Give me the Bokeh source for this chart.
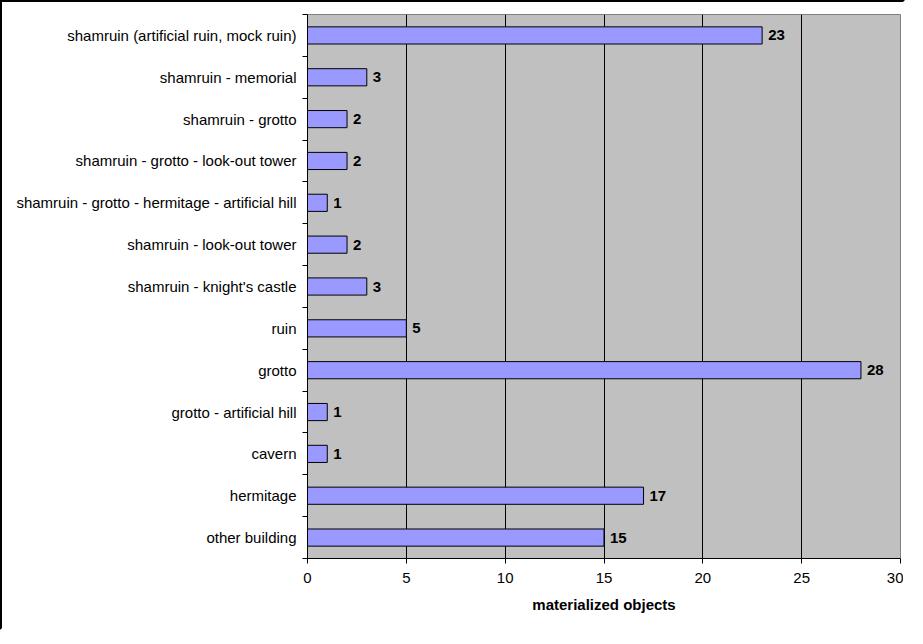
from bokeh.plotting import figure
from bokeh.models import FixedTicker, ColumnDataSource, LabelSet, Range1d
from bokeh.core.properties import value
from bokeh.embed import file_html
from bokeh.resources import INLINE

categories = [
    "shamruin (artificial ruin, mock ruin)",
    "shamruin - memorial",
    "shamruin - grotto",
    "shamruin - grotto - look-out tower",
    "shamruin - grotto - hermitage - artificial hill",
    "shamruin - look-out tower",
    "shamruin - knight's castle",
    "ruin",
    "grotto",
    "grotto - artificial hill",
    "cavern",
    "hermitage",
    "other building",
]
values = [23, 3, 2, 2, 1, 2, 3, 5, 28, 1, 1, 17, 15]
x_ticks = [0, 5, 10, 15, 20, 25, 30]

n = len(categories)
ypos = [n - i - 0.5 for i in range(n)]
source = ColumnDataSource(dict(y=ypos, v=values, label=[str(v) for v in values], cat=categories))

p = figure(width=905, height=630, output_backend="svg", toolbar_location=None,
           x_range=Range1d(0, 30), y_range=Range1d(0, n),
           min_border_left=305, min_border_right=7, min_border_top=12, min_border_bottom=74)
p.styles = {"border": "2px solid", "border-color": "black white white black"}
p.background_fill_color = "#C0C0C0"
p.border_fill_color = "white"
p.outline_line_color = "#808080"
p.outline_line_width = 1

p.hbar(y="y", right="v", left=0, height=0.41, source=source,
       fill_color="#9999FF", line_color="black", line_width=1)

labels = LabelSet(x="v", y="y", text="label", source=source, x_offset=6,
                  text_baseline="middle", text_align="left",
                  text_font=value("Liberation Sans"), text_font_style="bold",
                  text_font_size="15px", text_color="black")
p.add_layout(labels)

# x axis
p.xaxis.ticker = FixedTicker(ticks=x_ticks)
p.xaxis.axis_line_color = "black"
p.xaxis.major_tick_line_color = "black"
p.xaxis.major_tick_out = 5
p.xaxis.major_tick_in = 0
p.xaxis.minor_tick_line_color = None
p.xaxis.major_label_text_font = "Liberation Sans"
p.xaxis.major_label_text_font_size = "15px"
p.xaxis.major_label_text_color = "black"
p.xaxis.major_label_standoff = 9
p.xaxis.axis_label = "materialized objects"
p.xaxis.axis_label_text_font = "Liberation Sans"
p.xaxis.axis_label_text_font_style = "bold"
p.xaxis.axis_label_text_font_size = "15px"
p.xaxis.axis_label_text_color = "black"
p.xaxis.axis_label_standoff = 10

# y axis: labels at centers, tick marks at boundaries
p.yaxis.ticker = FixedTicker(ticks=ypos, minor_ticks=list(range(n + 1)))
p.yaxis.major_label_overrides = {y: c for y, c in zip(ypos, categories)}
p.yaxis.major_tick_line_color = None
p.yaxis.minor_tick_line_color = "black"
p.yaxis.minor_tick_out = 5
p.yaxis.minor_tick_in = 0
p.yaxis.axis_line_color = "black"
p.yaxis.major_label_text_font = "Liberation Sans"
p.yaxis.major_label_text_font_size = "15px"
p.yaxis.major_label_text_color = "black"
p.yaxis.major_label_standoff = 5

p.xgrid.ticker = FixedTicker(ticks=[5, 10, 15, 20, 25])
p.xgrid.grid_line_color = "black"
p.xgrid.grid_line_width = 1
p.ygrid.grid_line_color = None

open("out.html", "w").write(file_html(p, INLINE))
